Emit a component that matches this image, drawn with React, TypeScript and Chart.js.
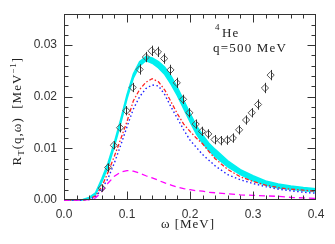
import React, { useEffect, useRef } from "react";
import { Chart, registerables } from "chart.js";

Chart.register(...registerables);

// model curves on a common omega grid (MeV)
const omega = [0, 0.02, 0.03, 0.04, 0.05, 0.06, 0.07, 0.08, 0.09, 0.10, 0.11, 0.12, 0.13, 0.14, 0.15, 0.16, 0.17, 0.18, 0.19, 0.20, 0.21, 0.22, 0.23, 0.24, 0.26, 0.28, 0.30, 0.32, 0.34, 0.36, 0.38, 0.40];
const bandLow = [0, 0, 0, 0.0003, 0.0010, 0.0035, 0.0064, 0.0104, 0.0148, 0.0196, 0.0236, 0.0260, 0.0270, 0.0265, 0.0256, 0.0243, 0.0224, 0.0202, 0.0177, 0.0152, 0.0128, 0.0110, 0.0096, 0.0084, 0.0064, 0.0049, 0.0037, 0.0029, 0.0023, 0.0021, 0.0018, 0.0016];
const bandHigh = [0, 0, 0.0001, 0.0005, 0.0014, 0.0041, 0.0072, 0.0112, 0.0156, 0.0204, 0.0244, 0.0268, 0.0278, 0.0275, 0.0268, 0.0257, 0.0240, 0.0218, 0.0193, 0.0168, 0.0144, 0.0126, 0.0110, 0.0098, 0.0076, 0.0059, 0.0047, 0.0037, 0.0031, 0.0027, 0.0024, 0.0022];
const redCurve = [0, 0, 0, 0.0002, 0.0008, 0.0026, 0.0054, 0.0085, 0.0118, 0.0152, 0.0192, 0.0214, 0.0228, 0.0235, 0.0229, 0.0213, 0.0190, 0.0167, 0.0147, 0.0133, 0.0120, 0.0109, 0.0094, 0.0080, 0.0059, 0.0045, 0.0036, 0.0029, 0.0024, 0.0021, 0.0019, 0.0017];
const blueCurve = [0, 0, 0, 0.0001, 0.0006, 0.0021, 0.0042, 0.0072, 0.0106, 0.0142, 0.0176, 0.0200, 0.0216, 0.0223, 0.0221, 0.0204, 0.0180, 0.0158, 0.0136, 0.0116, 0.0102, 0.0088, 0.0077, 0.0066, 0.0049, 0.0039, 0.0032, 0.0026, 0.0021, 0.0018, 0.0015, 0.0013];
const magentaCurve = [0, 0, 0, 0.0001, 0.0004, 0.0016, 0.0033, 0.0046, 0.0054, 0.0057, 0.0056, 0.0052, 0.0047, 0.0043, 0.0038, 0.0033, 0.0029, 0.0025, 0.0022, 0.0020, 0.0018, 0.0017, 0.0015, 0.0014, 0.0012, 0.0010, 0.0009, 0.0008, 0.0007, 0.0005, 0.0004, 0.0003];

// experimental points
const dataOmega = [0.060, 0.070, 0.079, 0.089, 0.099, 0.109, 0.120, 0.130, 0.139, 0.149, 0.159, 0.169, 0.179, 0.189, 0.199, 0.209, 0.219, 0.229, 0.239, 0.249, 0.259, 0.268, 0.278, 0.289, 0.298, 0.308, 0.319, 0.328];
const dataR = [0.0023, 0.0063, 0.0106, 0.0140, 0.0173, 0.0218, 0.0253, 0.0277, 0.0289, 0.0287, 0.0274, 0.0252, 0.0227, 0.0195, 0.0169, 0.0147, 0.0133, 0.0128, 0.0117, 0.0115, 0.0116, 0.0120, 0.0136, 0.0155, 0.0169, 0.0185, 0.0217, 0.0242];
const dataErr = [0.0007, 0.0008, 0.0008, 0.0009, 0.0009, 0.0009, 0.0010, 0.0010, 0.0010, 0.0010, 0.0010, 0.0010, 0.0010, 0.0009, 0.0009, 0.0009, 0.0009, 0.0009, 0.0009, 0.0009, 0.0009, 0.0009, 0.0009, 0.0009, 0.0009, 0.0010, 0.0010, 0.0010];

// axes
const xMin = 0, xMax = 0.4, xMajor = 0.1, xMinor = 0.02;
const yMin = 0, yMax = 0.036, yMajor = 0.01, yMinor = 0.002;

const nucleusLabel = "He";
const massNumber = "4";
const momentumLabel = "q=500 MeV";
const xTitle = "ω [MeV]";

const SERIF = "'Liberation Serif', 'Times New Roman', serif";
const SANS = "'Liberation Sans', Arial, sans-serif";
const INK = "#333";

const toXY = (xs: number[], ys: number[]) => xs.map((x, i) => ({ x, y: ys[i] }));

const decorPlugin = {
  id: "decor",
  afterDatasetsDraw(chart: any) {
    const ctx = chart.ctx;
    const xs = chart.scales.x, ys = chart.scales.y;
    ctx.save();
    ctx.strokeStyle = "#333";
    ctx.lineWidth = 1;
    dataOmega.forEach((w, i) => {
      const px = Math.round(xs.getPixelForValue(w)) + 0.5;
      ctx.beginPath();
      ctx.moveTo(px, ys.getPixelForValue(dataR[i] - dataErr[i]));
      ctx.lineTo(px, ys.getPixelForValue(dataR[i] + dataErr[i]));
      ctx.stroke();
    });
    ctx.restore();
  },
  afterDraw(chart: any) {
    const ctx = chart.ctx;
    const { left, right, top, bottom } = chart.chartArea;
    const xs = chart.scales.x, ys = chart.scales.y;
    ctx.save();
    ctx.strokeStyle = INK;
    ctx.lineWidth = 1;
    const L = Math.round(left) + 0.5, R = Math.round(right) - 0.5;
    const T = Math.round(top) + 0.5, B = Math.round(bottom) - 0.5;
    ctx.strokeRect(L, T, R - L, B - T);
    ctx.beginPath();
    const nx = Math.round((xMax - xMin) / xMinor);
    for (let i = 1; i < nx; i++) {
      const v = xMin + i * xMinor;
      const len = i % Math.round(xMajor / xMinor) === 0 ? 8 : 4;
      const p = Math.round(xs.getPixelForValue(v)) + 0.5;
      ctx.moveTo(p, B); ctx.lineTo(p, B - len);
      ctx.moveTo(p, T); ctx.lineTo(p, T + len);
    }
    const ny = Math.round((yMax - yMin) / yMinor);
    for (let i = 1; i < ny; i++) {
      const v = yMin + i * yMinor;
      const len = i % Math.round(yMajor / yMinor) === 0 ? 8 : 4;
      const p = Math.round(ys.getPixelForValue(v)) + 0.5;
      ctx.moveTo(L, p); ctx.lineTo(L + len, p);
      ctx.moveTo(R, p); ctx.lineTo(R - len, p);
    }
    ctx.stroke();

    // titles
    ctx.fillStyle = "#222";
    (ctx as any).letterSpacing = "1px";
    ctx.textBaseline = "alphabetic";
    ctx.textAlign = "left";
    // x title
    ctx.font = `13px ${SERIF}`;
    const xw = ctx.measureText(xTitle).width;
    ctx.fillText(xTitle, (left + right) / 2 - 2 - xw / 2, 228);

    // y title (rotated), with sub/superscripts
    const pieces = [
      { t: "R", size: 13, dy: 0 },
      { t: "T", size: 9, dy: 3 },
      { t: "(q,ω)  [MeV", size: 13, dy: 0 },
      { t: "−1", size: 9, dy: -5 },
      { t: "]", size: 13, dy: 0 },
    ];
    let total = 0;
    pieces.forEach((p) => {
      ctx.font = `${p.size}px ${SERIF}`;
      total += ctx.measureText(p.t).width;
    });
    ctx.translate(21, (top + bottom) / 2 + 4);
    ctx.rotate(-Math.PI / 2);
    let cx = -total / 2;
    pieces.forEach((p) => {
      ctx.font = `${p.size}px ${SERIF}`;
      ctx.fillText(p.t, cx, p.dy);
      cx += ctx.measureText(p.t).width;
    });
    ctx.setTransform(1, 0, 0, 1, 0, 0);

    // annotation
    (ctx as any).letterSpacing = "1.2px";
    ctx.font = `9px ${SERIF}`;
    ctx.fillText(massNumber, 215, 30);
    ctx.font = `13px ${SERIF}`;
    ctx.fillText(nucleusLabel, 222, 37);
    ctx.fillText(momentumLabel, 213, 52);
    ctx.restore();
  },
};

export default function App() {
  const ref = useRef<HTMLCanvasElement>(null);
  useEffect(() => {
    const canvas = ref.current!;
    const lineBase = { pointRadius: 0, fill: false, tension: 0, clip: false as any };
    const chart = new Chart(canvas, {
      type: "line",
      data: {
        datasets: [
          {
            label: "data",
            data: toXY(dataOmega, dataR),
            showLine: false,
            pointStyle: "rectRot",
            pointRadius: 3.6,
            pointBorderWidth: 1,
            pointBorderColor: "#555",
            pointBackgroundColor: "rgba(0,0,0,0)",
            borderColor: "#555",
            backgroundColor: "rgba(0,0,0,0)",
            order: 0,
          } as any,
          { ...lineBase, label: "magenta", data: toXY(omega, magentaCurve), borderColor: "#ff00ff", borderDash: [6, 4], borderWidth: 1.3, order: 1 },
          { ...lineBase, label: "blue", data: toXY(omega, blueCurve), borderColor: "#2020ff", borderDash: [1.5, 2.5], borderWidth: 1.4, order: 2 },
          { ...lineBase, label: "red", data: toXY(omega, redCurve), borderColor: "#ff2020", borderDash: [4, 2, 1.5, 2], borderWidth: 1.3, order: 3 },
          { ...lineBase, label: "bandLow", data: toXY(omega, bandLow), borderColor: "#00f0f0", borderWidth: 1.5, order: 5 },
          { ...lineBase, label: "bandHigh", data: toXY(omega, bandHigh), borderColor: "#00f0f0", backgroundColor: "#00f0f0", borderWidth: 1.5, fill: "-1", order: 4 },
        ],
      },
      options: {
        responsive: false,
        animation: false,
        devicePixelRatio: 1,
        layout: { padding: { top: 10, right: 19, bottom: 0, left: 0 } },
        plugins: { legend: { display: false }, tooltip: { enabled: false } },
        scales: {
          x: {
            type: "linear",
            min: xMin,
            max: xMax,
            border: { display: false },
            grid: { display: false, drawTicks: false },
            ticks: {
              stepSize: xMajor,
              includeBounds: false,
              padding: 7,
              color: INK,
              font: { family: SANS, size: 12 },
              maxRotation: 0,
              callback: (v: any) => Number(v).toFixed(1),
            },
            afterFit: (s: any) => { s.height = 44; },
          },
          y: {
            type: "linear",
            min: yMin,
            max: yMax,
            border: { display: false },
            grid: { display: false, drawTicks: false },
            ticks: {
              stepSize: yMajor,
              includeBounds: false,
              padding: 7,
              color: INK,
              font: { family: SANS, size: 12 },
              callback: (v: any) => Number(v).toFixed(2),
            },
            afterFit: (s: any) => { s.width = 64; },
          },
        },
      },
      plugins: [decorPlugin],
    });
    return () => chart.destroy();
  }, []);
  return (
    <div style={{ position: "fixed", left: 0, top: 0, width: 335, height: 244, background: "#fff" }}>
      <canvas ref={ref} width={335} height={244} style={{ width: 335, height: 244, display: "block" }} />
    </div>
  );
}
